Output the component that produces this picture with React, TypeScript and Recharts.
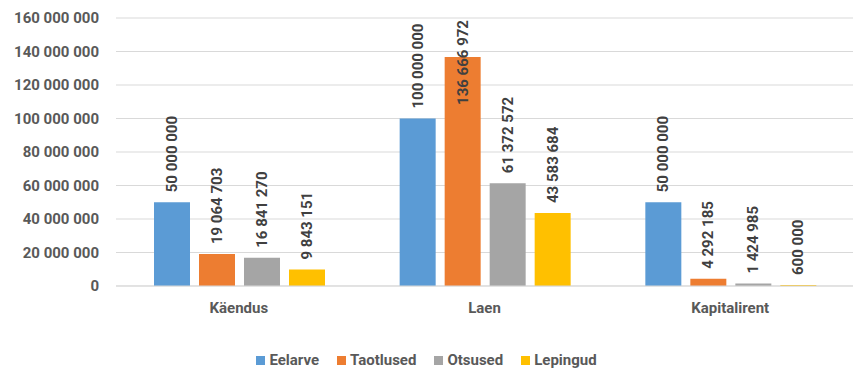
import { BarChart, Bar, XAxis, YAxis, CartesianGrid, Legend, LabelList } from "recharts";

const CATEGORIES = ["Käendus", "Laen", "Kapitalirent"];
const EELARVE = [50000000, 100000000, 50000000];
const TAOTLUSED = [19064703, 136666972, 4292185];
const OTSUSED = [16841270, 61372572, 1424985];
const LEPINGUD = [9843151, 43583684, 600000];
const Y_TICKS = [0, 20000000, 40000000, 60000000, 80000000, 100000000, 120000000, 140000000, 160000000];

const SERIES = [
    { key: "Eelarve", values: EELARVE, color: "#5B9BD5" },
    { key: "Taotlused", values: TAOTLUSED, color: "#ED7D31" },
    { key: "Otsused", values: OTSUSED, color: "#A5A5A5" },
    { key: "Lepingud", values: LEPINGUD, color: "#FFC000" },
];

const data = CATEGORIES.map((name, i) => {
    const row: any = { name };
    SERIES.forEach((s) => (row[s.key] = s.values[i]));
    return row;
});

const FONT = "Roboto, 'Noto Sans', sans-serif";
const PLOT_TOP = 18;

const fmt = (v: number) => String(v).replace(/\B(?=(\d{3})+(?!\d))/g, " ");

// vertical value label above each bar, pushed down inside the plot when it would overflow
function ValueLabel(props: any) {
    const { x, y, width, value } = props;
    const text = fmt(value);
    const cx = x + width / 2;
    const estLen = text.length * 7.6;
    const start = y - 10;
    const fits = start - estLen > PLOT_TOP + 2;
    const ty = fits ? start : PLOT_TOP + 2;
    return (
        <text
            x={cx}
            y={ty}
            transform={`rotate(-90 ${cx} ${ty})`}
            textAnchor={fits ? "start" : "end"}
            dominantBaseline="central"
            fill="#404040"
            fontSize={15}
            fontWeight="bold"
            fontFamily={FONT}
        >
            {text}
        </text>
    );
}

function LegendBox() {
    return (
        <div
            style={{
                height: 24,
                display: "flex",
                justifyContent: "center",
                alignItems: "center",
                gap: 18,
                fontFamily: FONT,
                fontWeight: "bold",
                fontSize: 15,
                color: "#595959",
            }}
        >
            {SERIES.map((s) => (
                <div key={s.key} style={{ display: "flex", alignItems: "center", gap: 4 }}>
                    <div style={{ width: 9, height: 9, backgroundColor: s.color }} />
                    <span>{s.key}</span>
                </div>
            ))}
        </div>
    );
}

export default function App() {
    return (
        <div style={{ position: "absolute", left: 0, top: 0, width: 862, height: 378, background: "#fff" }}>
            <BarChart
                width={862}
                height={378}
                data={data}
                margin={{ top: PLOT_TOP, right: 9, bottom: 6, left: 0 }}
                barCategoryGap={38}
                barGap={9}
            >
                <CartesianGrid vertical={false} stroke="#D9D9D9" />
                <XAxis
                    dataKey="name"
                    height={62}
                    tickSize={0}
                    tickMargin={16}
                    axisLine={{ stroke: "#D9D9D9" }}
                    tick={{ fill: "#595959", fontSize: 15, fontWeight: "bold", fontFamily: FONT }}
                />
                <YAxis
                    width={116}
                    domain={[0, 160000000]}
                    ticks={Y_TICKS}
                    tickFormatter={fmt}
                    tickSize={0}
                    tickMargin={17}
                    axisLine={false}
                    tickLine={false}
                    tick={{ fill: "#595959", fontSize: 15, fontWeight: "bold", fontFamily: FONT }}
                />
                <Legend verticalAlign="bottom" content={<LegendBox />} />
                {SERIES.map((s) => (
                    <Bar key={s.key} dataKey={s.key} fill={s.color} isAnimationActive={false}>
                        <LabelList dataKey={s.key} content={<ValueLabel />} />
                    </Bar>
                ))}
            </BarChart>
        </div>
    );
}
